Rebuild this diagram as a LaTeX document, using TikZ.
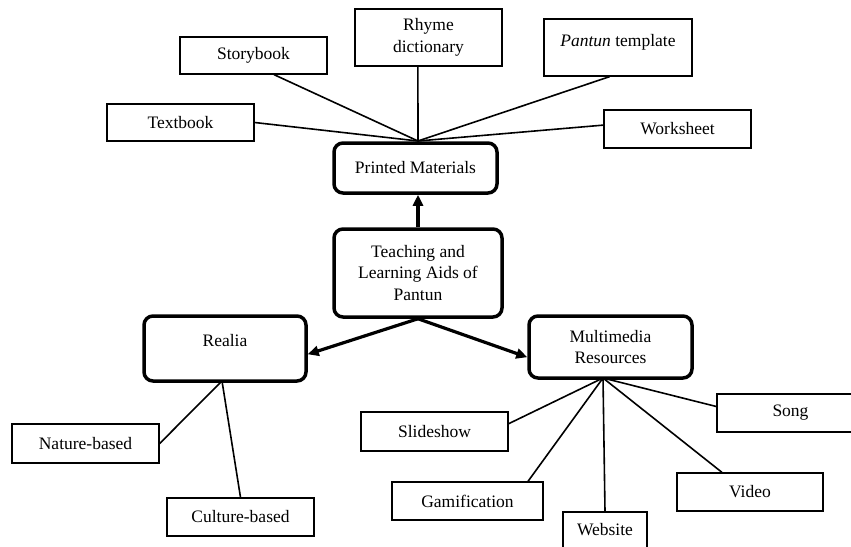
\documentclass[tikz,border=0pt]{standalone}
\usepackage{fontspec}
\setmainfont{Liberation Serif}
\usetikzlibrary{arrows.meta}
\tikzset{
  leaf/.style={draw, line width=1.3pt, minimum width=147pt, minimum height=38pt, inner sep=0pt, align=center},
  hub/.style={draw, line width=3.5pt, rounded corners=9pt, inner sep=0pt, align=center},
  link/.style={line width=1.6pt},
  main/.style={line width=3.2pt, -{Triangle[length=11pt,width=10pt]}}
}
\begin{document}
\begin{tikzpicture}[x=1pt, y=-1pt, font=\fontsize{17.5}{21.5}\selectfont]
\useasboundingbox (0,0) rectangle (851,546);
\clip (0,0) rectangle (851,546);
\node[hub, minimum width=168pt, minimum height=88pt] (aids) at (418,273) {Teaching and\\Learning Aids of\\Pantun};
\node[hub, minimum width=163pt, minimum height=50pt] (printed) at (415.5,168) {Printed Materials};
\node[hub, minimum width=162pt, minimum height=65pt] (realia) at (225,348.5) {Realia\\[-6pt]\mbox{}};
\node[hub, minimum width=163pt, minimum height=62pt] (multi) at (610.5,347) {Multimedia\\Resources};
\node[leaf, minimum height=37pt] (textbook) at (180.5,122.5) {Textbook};
\node[leaf, minimum height=37pt] (story) at (253.5,55.5) {Storybook};
\node[leaf, minimum height=57pt] (rhyme) at (428.5,37.5) {Rhyme\\dictionary};
\node[leaf, minimum width=148pt, minimum height=57pt, label={[yshift=5.5pt]center:{\textit{Pantun} template}}] (pantun) at (618,47.5) {};
\node[leaf] (worksheet) at (677.5,129) {Worksheet};
\node[leaf, minimum height=39pt] (nature) at (85.5,443.5) {Nature-based};
\node[leaf] (culture) at (240.5,517) {Culture-based};
\node[leaf, minimum height=39pt] (slideshow) at (434.5,431.5) {Slideshow};
\node[leaf] (song) at (790.5,413) {Song};
\node[leaf, minimum width=151pt] (gamification) at (467.5,501) {Gamification};
\node[leaf, minimum width=146pt] (video) at (750,492) {Video};
\node[leaf, minimum width=84pt, minimum height=36pt] (website) at (605,530) {Website};
\coordinate (pmhub) at (418,141);
\coordinate (realhub) at (222,381);
\coordinate (mmhub) at (603,378);
\draw[main] (aids.north) -- (aids.north |- printed.south);
\draw[main] (aids.south) -- (realia.-4.6);
\draw[main] (aids.south) -- (multi.187);
\draw[link] (textbook.east) -- (pmhub);
\draw[link] (story.-43.5) -- (pmhub);
\draw[link] (rhyme.-110) -- (pmhub);
\draw[link] (pantun.-106) -- (pmhub);
\draw[link] (worksheet.177) -- (pmhub);
\draw[link] (realhub) -- (nature.east);
\draw[link] (realhub) -- (culture.north);
\draw[link] (mmhub) -- (slideshow.6.6);
\draw[link] (mmhub) -- (gamification.18.9);
\draw[link] (mmhub) -- (website.north);
\draw[link] (mmhub) -- (video.145.8);
\draw[link] (mmhub) -- (song.175.4);
\end{tikzpicture}
\end{document}
